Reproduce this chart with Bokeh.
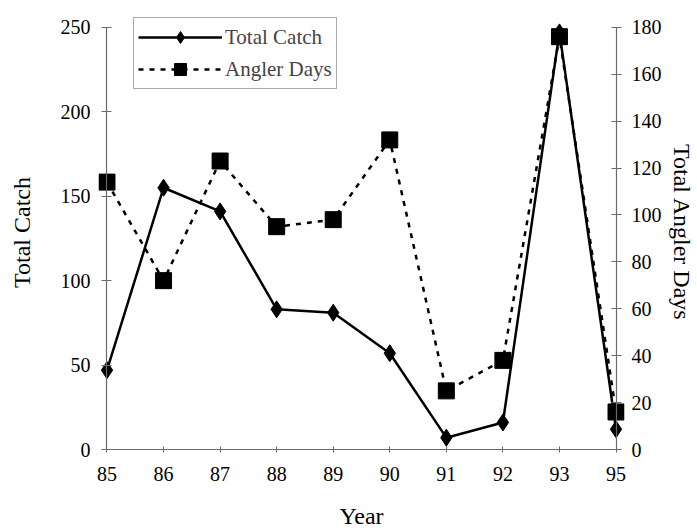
from bokeh.plotting import figure
from bokeh.models import (Range1d, LinearAxis, FixedTicker, Legend, LegendItem,
                          ColumnDataSource)
from bokeh.embed import file_html
from bokeh.resources import INLINE

# Survey years (two-digit), catch totals and angler effort
years = ["85", "86", "87", "88", "89", "90", "91", "92", "93", "95"]
total_catch = [47, 155, 141, 83, 81, 57, 7, 16, 247, 12]
angler_days = [114, 72, 123, 95, 98, 132, 25, 38, 176, 16]

catch_ticks = [0, 50, 100, 150, 200, 250]
days_ticks = [0, 20, 40, 60, 80, 100, 120, 140, 160, 180]
catch_max = 250
days_max = 180

SERIF = "Liberation Serif"
AXIS_COLOR = "#6a6a6a"

pos = list(range(len(years)))
last = len(years) - 1
src = ColumnDataSource(data=dict(pos=pos, catch=total_catch, days=angler_days))

# a little head-room around the data so edge markers are not clipped;
# the axis lines themselves are bounded to the data extents
x_pad = 0.15
y_top = 257
p = figure(width=697, height=531, output_backend="svg", toolbar_location=None,
           x_range=Range1d(-x_pad, last + x_pad), y_range=Range1d(0, y_top),
           min_border_left=98, min_border_right=71,
           min_border_top=15, min_border_bottom=79)
p.outline_line_color = None
p.grid.visible = False
p.extra_y_ranges = {"days": Range1d(0, days_max * y_top / catch_max)}

# Catch series on the left axis
catch_line = p.line("pos", "catch", source=src, line_color="black", line_width=2.5)
catch_pts = p.scatter("pos", "catch", source=src, marker="diamond", size=17,
                      fill_color="black", line_color="black")

# Angler-day series on the right axis
days_line = p.line("pos", "days", source=src, y_range_name="days",
                   line_color="black", line_width=2.5, line_dash="5 6")
days_pts = p.scatter("pos", "days", source=src, y_range_name="days", marker="square",
                     size=16, fill_color="black", line_color="black")


def style_text(ax):
    ax.minor_tick_line_color = None
    ax.major_label_text_font = SERIF
    ax.major_label_text_font_size = "20px"
    ax.major_label_text_color = "black"
    ax.axis_label_text_font = SERIF
    ax.axis_label_text_font_size = "24px"
    ax.axis_label_text_font_style = "normal"
    ax.axis_label_text_color = "black"


def style_line(ax, tick_in, tick_out):
    ax.axis_line_color = AXIS_COLOR
    ax.axis_line_width = 1.2
    ax.major_tick_line_color = AXIS_COLOR
    ax.major_tick_in = tick_in
    ax.major_tick_out = tick_out
    ax.minor_tick_line_color = None


def label_only(ax):
    # axis that carries only tick labels and the title
    style_text(ax)
    ax.axis_line_color = None
    ax.major_tick_line_color = None
    ax.major_tick_out = 0
    ax.major_tick_in = 0


def line_only(ax):
    # axis that carries only the line and tick marks, pinned at a data position
    style_line(ax, 5, 5)
    ax.major_label_text_color = None
    ax.major_label_text_font_size = "0px"
    ax.major_label_standoff = 0
    ax.axis_label = None


xax = p.xaxis[0]
xax.ticker = FixedTicker(ticks=pos)
xax.major_label_overrides = {i: y for i, y in enumerate(years)}
xax.axis_label = "Year"
xax.bounds = (-0.1, last + 0.1)
style_text(xax)
style_line(xax, 3, 3)
xax.major_label_standoff = 14
xax.axis_label_standoff = 19

# left: labels at the frame edge, line pinned at the first year
yax = p.yaxis[0]
yax.ticker = FixedTicker(ticks=catch_ticks)
yax.axis_label = "Total Catch"
label_only(yax)
yax.major_label_standoff = 8
yax.axis_label_standoff = 23

yline = LinearAxis(ticker=FixedTicker(ticks=catch_ticks), bounds=(0, catch_max),
                   fixed_location=0)
line_only(yline)
p.add_layout(yline, "left")

# right: labels at the frame edge, line pinned at the last year
rax = LinearAxis(y_range_name="days", axis_label="Total Angler Days",
                 ticker=FixedTicker(ticks=days_ticks))
label_only(rax)
rax.major_label_standoff = 7
rax.axis_label_standoff = 4
p.add_layout(rax, "right")

rline = LinearAxis(y_range_name="days", ticker=FixedTicker(ticks=days_ticks),
                   bounds=(0, days_max), fixed_location=last)
line_only(rline)
p.add_layout(rline, "right")

legend = Legend(items=[
    LegendItem(label="Total Catch", renderers=[catch_line, catch_pts]),
    LegendItem(label="Angler Days", renderers=[days_line, days_pts]),
], location=(35, 360))
legend.glyph_width = 84
legend.glyph_height = 30
legend.label_height = 30
legend.label_standoff = 3
legend.padding = 4
legend.spacing = 2
legend.margin = 0
legend.label_text_font = SERIF
legend.label_text_font_size = "21px"
legend.border_line_color = "#555555"
legend.border_line_width = 1
legend.background_fill_color = "white"
legend.background_fill_alpha = 1
p.add_layout(legend)

open("out.html", "w").write(file_html(p, INLINE))
